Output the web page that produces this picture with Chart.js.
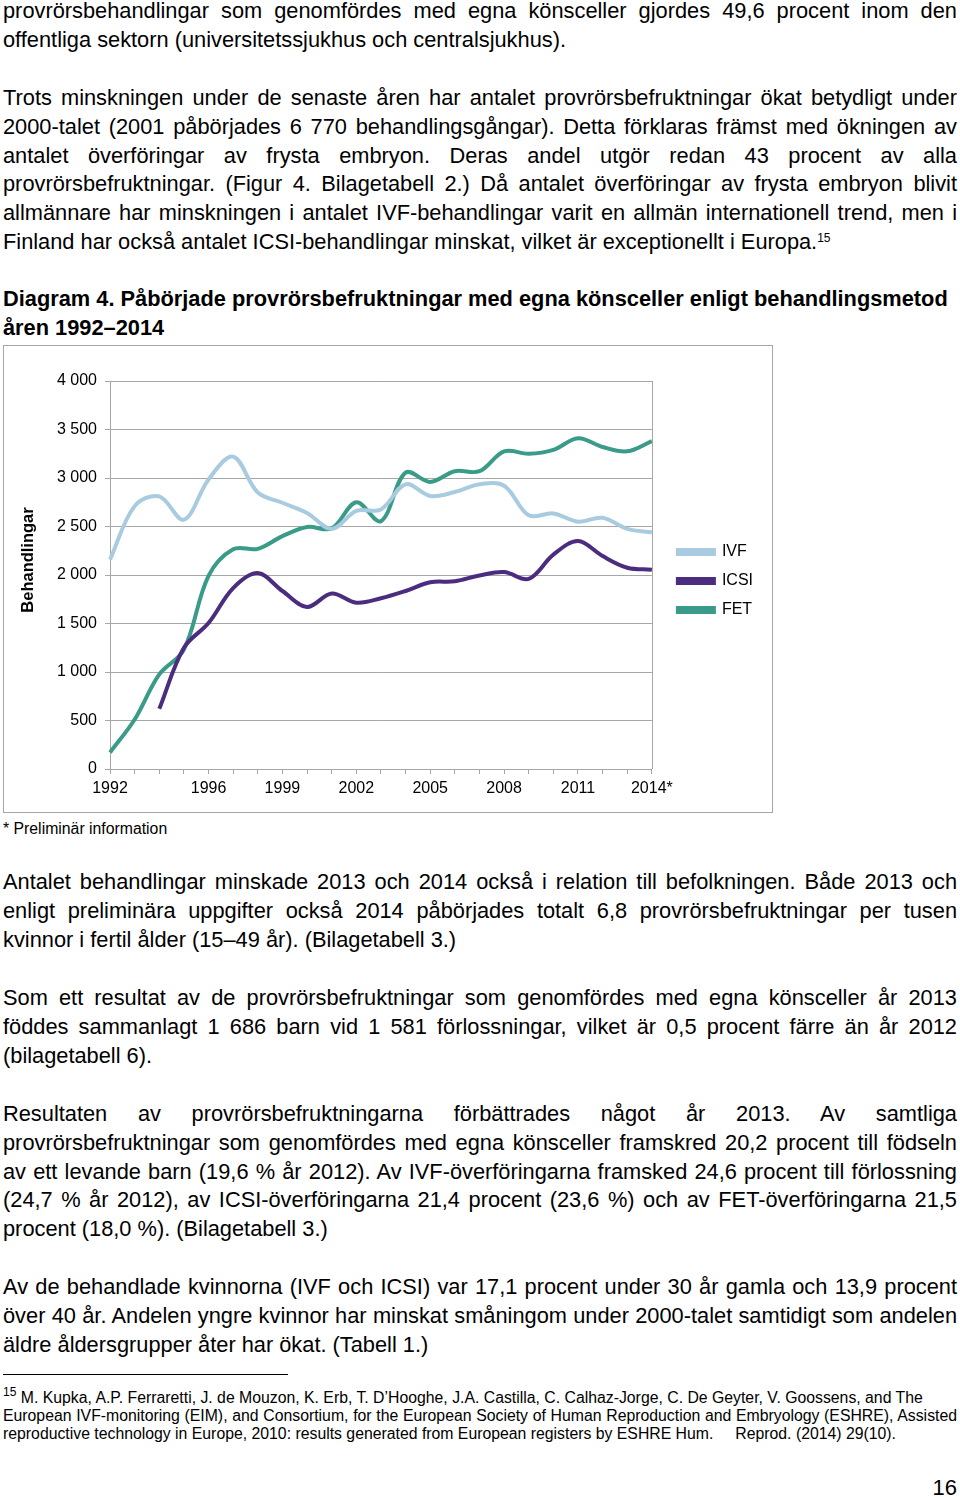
<!DOCTYPE html>
<html>
<head>
<meta charset="utf-8">
<script src="https://cdn.jsdelivr.net/npm/chart.js@4"></script>
<style>
  body { margin: 0; width: 960px; height: 1497px; position: relative; overflow: hidden; background: #fff;
         font-family: "Liberation Sans", Arial, sans-serif; color: #000; }
  .blk { position: absolute; left: 3px; width: 954px; }
  .p { font-size: 21.8px; line-height: 28.8px; }
  .j { text-align: justify; text-align-last: justify; }
  .h { font-size: 21.8px; line-height: 28.8px; font-weight: bold; }
  .fn { font-size: 15.8px; line-height: 18px; }
  sup { font-size: 12px; line-height: 0; vertical-align: 0.6em; }
  #box { position: absolute; left: 3px; top: 345px; width: 770px; height: 468px; border: 1px solid #a6a6a6; box-sizing: border-box; }
  #rule { position: absolute; left: 3px; top: 1374px; width: 285px; height: 1px; background: #000; }
</style>
</head>
<body>
<div class="blk p" style="top:-3px">
  <div class="j">provrörsbehandlingar som genomfördes med egna könsceller gjordes 49,6 procent inom den</div>
  <div>offentliga sektorn (universitetssjukhus och centralsjukhus).</div>
</div>
<div class="blk p" style="top:84px">
  <div class="j">Trots minskningen under de senaste åren har antalet provrörsbefruktningar ökat betydligt under</div>
  <div class="j">2000-talet (2001 påbörjades 6 770 behandlingsgångar). Detta förklaras främst med ökningen av</div>
  <div class="j">antalet överföringar av frysta embryon. Deras andel utgör redan 43 procent av alla</div>
  <div class="j">provrörsbefruktningar. (Figur 4. Bilagetabell 2.) Då antalet överföringar av frysta embryon blivit</div>
  <div class="j">allmännare har minskningen i antalet IVF-behandlingar varit en allmän internationell trend, men i</div>
  <div>Finland har också antalet ICSI-behandlingar minskat, vilket är exceptionellt i Europa.<sup>15</sup></div>
</div>
<div class="blk h" style="top:285px">
  <div>Diagram 4. Påbörjade provrörsbefruktningar med egna könsceller enligt behandlingsmetod</div>
  <div>åren 1992–2014</div>
</div>
<div id="box"><canvas id="chart" width="768" height="466"></canvas></div>
<div class="blk fn" style="top:820px">* Preliminär information</div>
<div class="blk p" style="top:868px">
  <div class="j">Antalet behandlingar minskade 2013 och 2014 också i relation till befolkningen. Både 2013 och</div>
  <div class="j">enligt preliminära uppgifter också 2014 påbörjades totalt 6,8 provrörsbefruktningar per tusen</div>
  <div>kvinnor i fertil ålder (15–49 år). (Bilagetabell 3.)</div>
</div>
<div class="blk p" style="top:984px">
  <div class="j">Som ett resultat av de provrörsbefruktningar som genomfördes med egna könsceller år 2013</div>
  <div class="j">föddes sammanlagt 1 686 barn vid 1 581 förlossningar, vilket är 0,5 procent färre än år 2012</div>
  <div>(bilagetabell 6).</div>
</div>
<div class="blk p" style="top:1100px">
  <div class="j">Resultaten av provrörsbefruktningarna förbättrades något år 2013. Av samtliga</div>
  <div class="j">provrörsbefruktningar som genomfördes med egna könsceller framskred 20,2 procent till födseln</div>
  <div class="j">av ett levande barn (19,6 % år 2012). Av IVF-överföringarna framsked 24,6 procent till förlossning</div>
  <div class="j">(24,7 % år 2012), av ICSI-överföringarna 21,4 procent (23,6 %) och av FET-överföringarna 21,5</div>
  <div>procent (18,0 %). (Bilagetabell 3.)</div>
</div>
<div class="blk p" style="top:1273px">
  <div class="j">Av de behandlade kvinnorna (IVF och ICSI) var 17,1 procent under 30 år gamla och 13,9 procent</div>
  <div class="j">över 40 år. Andelen yngre kvinnor har minskat småningom under 2000-talet samtidigt som andelen</div>
  <div>äldre åldersgrupper åter har ökat. (Tabell 1.)</div>
</div>
<div id="rule"></div>
<div class="blk fn" style="top:1389px">
  <div><sup>15</sup> M. Kupka, A.P. Ferraretti, J. de Mouzon, K. Erb, T. D’Hooghe, J.A. Castilla, C. Calhaz-Jorge, C. De Geyter, V. Goossens, and The</div>
  <div class="j">European IVF-monitoring (EIM), and Consortium, for the European Society of Human Reproduction and Embryology (ESHRE), Assisted</div>
  <div>reproductive technology in Europe, 2010: results generated from European registers by ESHRE Hum.&nbsp;&nbsp;&nbsp;&nbsp; Reprod. (2014) 29(10).</div>
</div>
<div style="position:absolute;right:3px;top:1475px;font-size:22px;line-height:26px">16</div>

<script>
const years = ['1992','1993','1994','1995','1996','1997','1998','1999','2000','2001','2002','2003',
               '2004','2005','2006','2007','2008','2009','2010','2011','2012','2013','2014*'];
const shownYears = ['1992','1996','1999','2002','2005','2008','2011','2014*'];
const ivf  = [2160, 2710, 2810, 2570, 2985, 3220, 2850, 2745, 2640, 2475, 2660, 2675,
              2935, 2815, 2855, 2935, 2920, 2615, 2635, 2550, 2590, 2475, 2440];
const icsi = [null, null, 620, 1250, 1505, 1865, 2020, 1835, 1670, 1810, 1715, 1760,
              1835, 1925, 1935, 1995, 2030, 1960, 2210, 2350, 2195, 2075, 2055];
const fet  = [170, 510, 975, 1230, 1990, 2265, 2270, 2400, 2495, 2480, 2750, 2555,
              3055, 2960, 3070, 3070, 3275, 3250, 3290, 3410, 3320, 3275, 3380];

const gridGray = '#a6a6a6';
const fam = '"Liberation Sans", Arial, sans-serif';
const font16 = { family: fam, size: 16 };

// right edge of the plot frame + rotated axis title
const frame = {
  id: 'frame',
  afterDraw(chart) {
    const a = chart.chartArea, c = chart.ctx;
    c.save();
    c.strokeStyle = gridGray;
    c.lineWidth = 1;
    c.beginPath();
    c.moveTo(Math.round(a.right) + 0.5, a.top);
    c.lineTo(Math.round(a.right) + 0.5, a.bottom);
    c.stroke();
    c.translate(24, (a.top + a.bottom) / 2 - 15);
    c.rotate(-Math.PI / 2);
    c.font = 'bold 16.5px ' + fam;
    c.fillStyle = '#000';
    c.textAlign = 'center';
    c.textBaseline = 'middle';
    c.fillText('Behandlingar', 0, 0);
    c.restore();
  }
};

function ds(label, data, color) {
  return { label: label, data: data, borderColor: color, backgroundColor: color,
           borderWidth: 4, pointRadius: 0, tension: 0.35, fill: false };
}

new Chart(document.getElementById('chart'), {
  type: 'line',
  data: {
    labels: years,
    datasets: [ds('IVF', ivf, '#a9cbe0'), ds('ICSI', icsi, '#4b2c7f'), ds('FET', fet, '#3a9b89')]
  },
  options: {
    responsive: false,
    devicePixelRatio: 1,
    animation: false,
    layout: { padding: { top: 35, right: 9, left: 0, bottom: 0 } },
    plugins: {
      legend: {
        position: 'right',
        fullSize: false,
        // empty title only nudges the items down a little
        title: { display: true, text: '', padding: 0, font: { size: 10 } },
        labels: { boxWidth: 36, boxHeight: 4, padding: 13, color: '#000', font: font16 }
      },
      tooltip: { enabled: false }
    },
    scales: {
      x: {
        offset: false,
        grid: { drawOnChartArea: false, tickLength: 5, color: gridGray },
        border: { color: gridGray },
        afterFit(s) { s.height = 43; },
        ticks: {
          autoSkip: false, maxRotation: 0, padding: 5, color: '#000', font: font16,
          callback(v) { const l = this.getLabelForValue(v); return shownYears.includes(l) ? l : ''; }
        }
      },
      y: {
        min: 0, max: 4000,
        afterFit(s) { s.width = 106; },
        grid: { tickLength: 5, color: gridGray },
        border: { color: gridGray },
        ticks: {
          stepSize: 500, padding: 8, color: '#000', font: font16,
          callback: v => String(v).replace(/\B(?=(\d{3})+(?!\d))/g, ' ')
        }
      },
      gap: {
        position: 'right',
        afterFit(s) { s.width = 13; },
        grid: { display: false },
        border: { display: false },
        ticks: { display: false }
      }
    }
  },
  plugins: [frame]
});
</script>
</body>
</html>
